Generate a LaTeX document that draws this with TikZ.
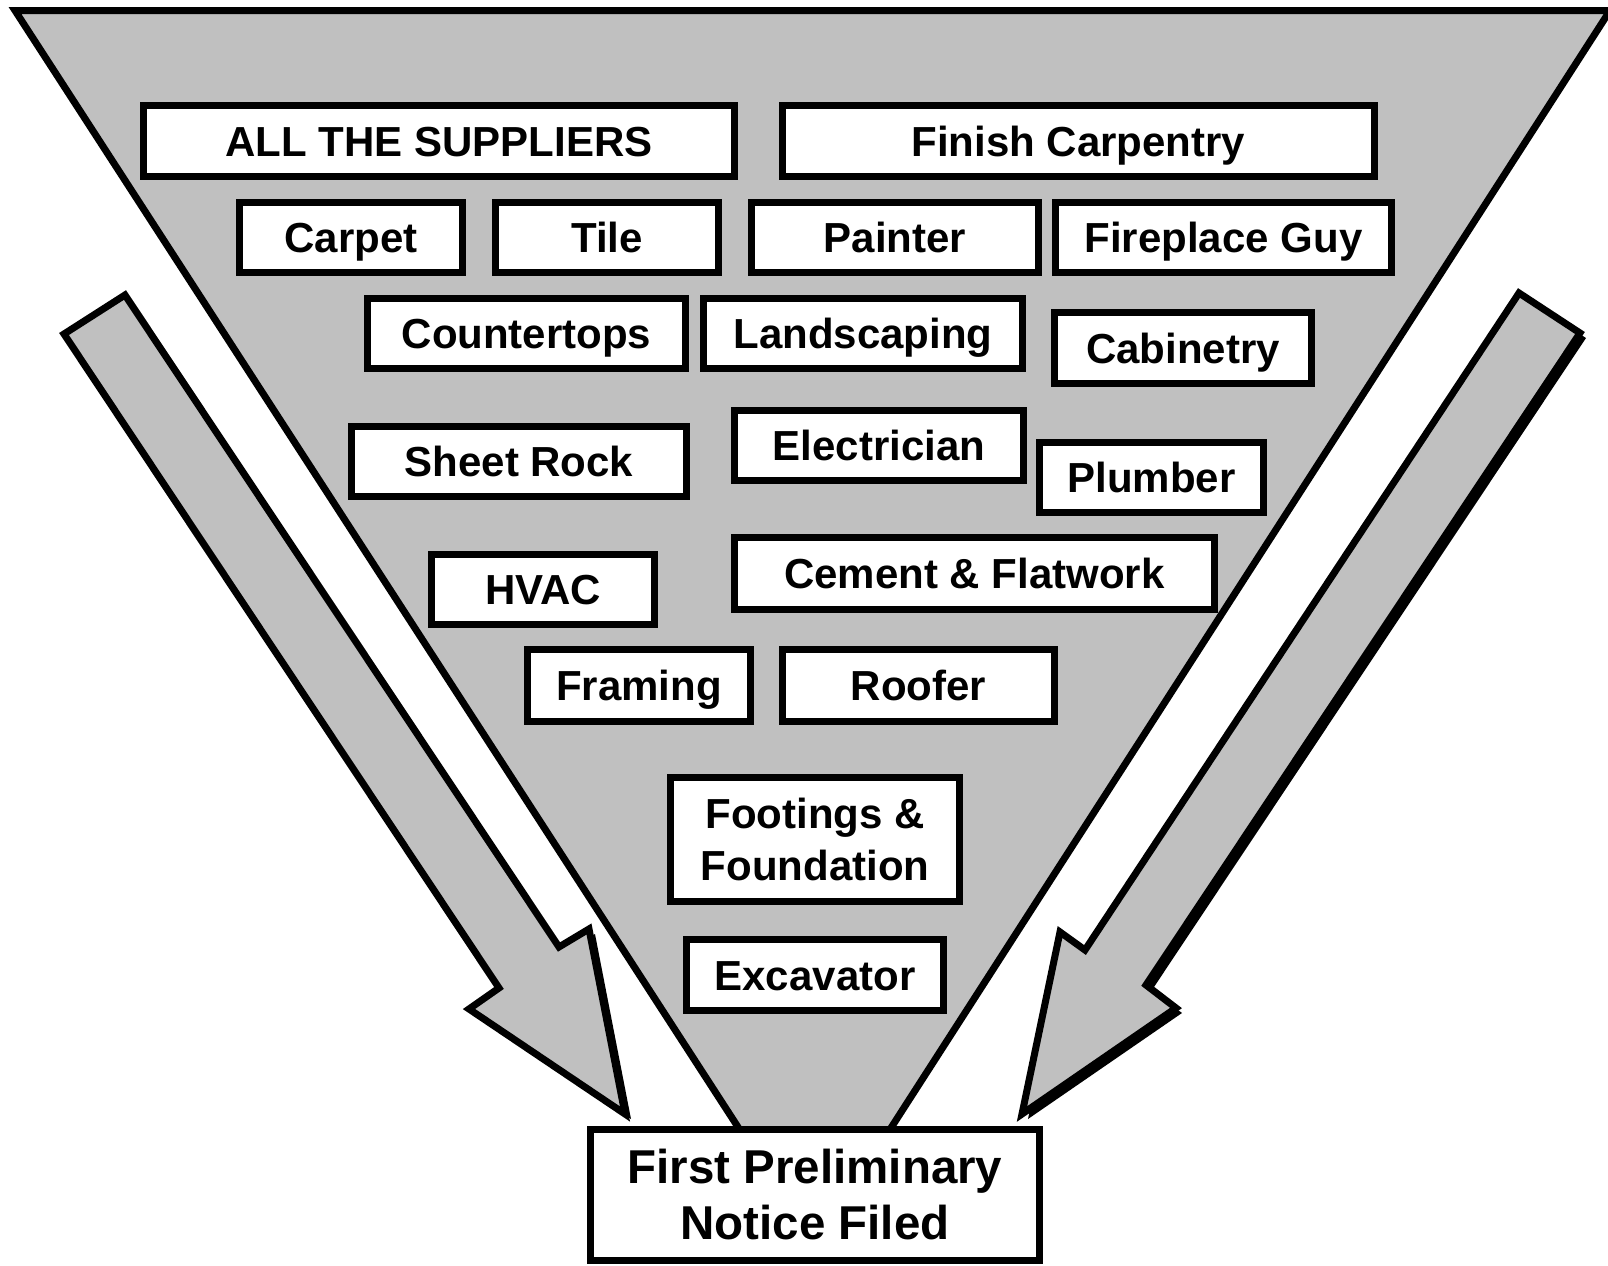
\documentclass[tikz,border=0pt]{standalone}
\usepackage{fontspec}
\setmainfont{Liberation Sans}
\definecolor{funnel}{RGB}{192,192,192}
\begin{document}
\begin{tikzpicture}[x=0.5pt,y=-0.5pt,
  outline/.style={draw=black, line width=3.5pt, line join=miter},
  box/.style={draw, line width=3.5pt, fill=white, inner sep=0pt,
    font=\bfseries\fontsize{21}{26}\selectfont, text height=15pt, text depth=0pt, align=center},
  box2/.style={box, text height=, text depth=}]
\path[use as bounding box, fill=white] (0,0) rectangle (1608,1265);

% funnel
\path[outline, fill=funnel] (15,10.5) -- (1610,10.5) -- (815,1246) -- cycle;

% left block arrow: shadow then body
\fill[black] (70,339) -- (131,300) -- (565,952) -- (595,934) -- (631,1119) -- (475,1014) -- (505,993) -- cycle;
\path[outline, fill=funnel] (64,334) -- (125,295) -- (559,947) -- (589,929) -- (625,1114) -- (469,1009) -- (499,988) -- cycle;

% right block arrow: shadow then body
\fill[black] (1525,298) -- (1586,338) -- (1152,990) -- (1182,1013) -- (1028,1119) -- (1066,937) -- (1091,955) -- cycle;
\path[outline, fill=funnel] (1519,293) -- (1580,333) -- (1146,985) -- (1176,1008) -- (1022,1114) -- (1060,932) -- (1085,950) -- cycle;

% trades
\node[box, minimum width=295.5pt, minimum height=35.5pt] (sup) at (439,141) {ALL THE SUPPLIERS};
\node[box, minimum width=296pt, minimum height=35.5pt] (fin) at (1078.5,141) {Finish Carpentry};
\node[box, minimum width=111.5pt, minimum height=35pt] (carpet) at (351,237.5) {Carpet};
\node[box, minimum width=111.5pt, minimum height=35pt] (tile) at (607,237.5) {Tile};
\node[box, minimum width=143.5pt, minimum height=35pt] (paint) at (895,237.5) {Painter};
\node[box, minimum width=168pt, minimum height=35pt] (fire) at (1223.5,237.5) {Fireplace Guy};
\node[box, minimum width=159pt, minimum height=35pt] (counter) at (526.5,333.5) {Countertops};
\node[box, minimum width=159.5pt, minimum height=35pt] (land) at (863,333.5) {Landscaping};
\node[box, minimum width=128.5pt, minimum height=35.5pt] (cab) at (1183,348) {Cabinetry};
\node[box, minimum width=167.5pt, minimum height=35pt] (sheet) at (519,461.5) {Sheet Rock};
\node[box, minimum width=144.5pt, minimum height=35pt] (elec) at (879,445.5) {Electrician};
\node[box, minimum width=112pt, minimum height=35pt] (plumb) at (1151.5,477.5) {Plumber};
\node[box, minimum width=111.5pt, minimum height=35pt] (hvac) at (543,589.5) {HVAC};
\node[box, minimum width=240pt, minimum height=36pt] (cement) at (974.5,573.5) {Cement \& Flatwork};
\node[box, minimum width=111.5pt, minimum height=36pt] (frame) at (639,685.5) {Framing};
\node[box, minimum width=136pt, minimum height=36pt] (roof) at (918.5,685.5) {Roofer};
\node[box2, minimum width=144.5pt, minimum height=62pt] (foot) at (815,839.5) {Footings \&\\Foundation};
\node[box, minimum width=128.5pt, minimum height=35.5pt] (exc) at (815,975) {Excavator};
\node[box2, minimum width=224.5pt, minimum height=65.5pt,
  font=\bfseries\fontsize{23.75}{28}\selectfont] (notice) at (815,1195) {First Preliminary\\Notice Filed};
\end{tikzpicture}
\end{document}
